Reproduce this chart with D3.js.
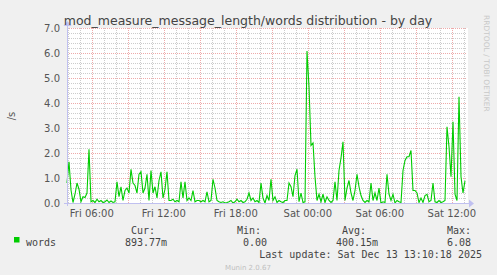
<!DOCTYPE html>
<html>
<head>
<meta charset="utf-8">
<script src="https://cdn.jsdelivr.net/npm/d3@7"></script>
<style>
  body { margin: 0; background: #f0f0f0; }
  svg { display: block; }
  text { font-family: "DejaVu Sans", sans-serif; }
  .mono { font-family: "DejaVu Sans Mono", monospace; font-size: 10px; fill: #444; }
</style>
</head>
<body>
<script>
// data: one value every 10 minutes, starting Fri Dec 12 2025 03:56
const words = [
  0.8, 1.65, 0.52, 0.02, 0.35, 0.8, 0.55, 0.05, 0.25, 0.22,
  0.4, 2.15, 0.05, 0.1, 0.02, 0.15, 0.05, 0.1, 0.02, 0.05,
  0.12, 0.02, 0.08, 0.02, 0.05, 0.85, 0.25, 0.65, 0.1, 0.5,
  0.6, 0.4, 1.35, 0.8, 0.7, 0.4, 1.15, 1.25, 0.4, 0.6,
  1.15, 0.1, 1.3, 0.4, 0.65, 0.2, 0.9, 1.25, 0.2, 0.55,
  1.25, 0.1, 0.1, 0.15, 0.05, 0.1, 0.05, 0.85, 0.2, 0.85,
  0.1, 0.2, 0.1, 0.5, 0.05, 0.1, 0.1, 0.05, 0.1, 0.05,
  0.45, 0.05, 0.1, 0.95, 0.6, 0.1, 0.05, 0.02, 0.05, 0.0,
  0.02, 0.05, 0.1, 0.0, 0.05, 0.15, 0.05, 0.1, 0.02, 0.05,
  0.15, 0.4, 0.1, 0.2, 0.05, 0.1, 0.02, 0.8, 0.2, 0.0,
  0.3, 0.1, 0.95, 0.1, 0.25, 0.02, 0.1, 0.05, 0.02, 0.1,
  0.1, 0.8, 0.65, 0.25, 1.1, 1.35, 0.05, 0.4, 0.02, 0.05,
  6.08, 4.65, 2.3, 2.4, 1.05, 0.1, 0.35, 0.05, 0.35, 0.02,
  0.25, 0.1, 0.02, 0.1, 0.85, 0.1, 1.3, 1.8, 2.45, 0.1,
  0.6, 0.9, 0.4, 0.1, 0.5, 1.15, 0.65, 0.3, 0.1, 0.02,
  0.1, 0.05, 0.8, 0.1, 0.4, 0.1, 0.6, 0.0, 0.05, 0.02,
  1.15, 0.35, 0.1, 0.35, 0.0, 0.1, 0.05, 0.02, 1.3, 1.7,
  1.85, 1.85, 2.1, 0.5, 0.5, 0.4, 0.02, 0.2, 0.02, 0.3,
  0.35, 0.05, 0.1, 0.8, 0.05, 0.02, 0.1, 0.02, 0.05, 0.1,
  3.05, 2.25, 1.05, 3.25, 0.35, 0.1, 4.25, 1.05, 0.4, 0.89
]
const yTicks = [0, 1, 2, 3, 4, 5, 6, 7]
const legendHeads = ['Cur:', 'Min:', 'Avg:', 'Max:']
const legendValues = ['893.77m', '0.00', '400.15m', '6.08']
const title = 'mod_measure_message_length/words distribution - by day'
const lastUpdate = 'Last update: Sat Dec 13 13:10:18 2025'

const start = new Date(2025, 11, 12, 3, 56)
const end = new Date(2025, 11, 13, 13, 16)
const step = 10 * 60 * 1000

const width = 497
const height = 275
const margin = {top: 28, left: 67, right: 30, bottom: 72}
const plotW = width - margin.left - margin.right
const plotH = height - margin.top - margin.bottom

const svg = d3.select('body').append('svg')
  .attr('width', width)
  .attr('height', height)

svg.append('rect')
  .attr('x', margin.left).attr('y', margin.top)
  .attr('width', plotW + 1).attr('height', plotH)
  .attr('fill', '#ffffff')

const x = d3.scaleTime().domain([start, end]).range([margin.left, margin.left + plotW])
const y = d3.scaleLinear().domain([0, 7]).range([margin.top + plotH, margin.top])

// grid
const minorColor = '#cccccc'
const majorColor = '#eeaaaa'
const grid = svg.append('g')
grid.selectAll('.hminor')
  .data(d3.range(0, 7.01, 0.2).filter(v => Math.abs(v - Math.round(v)) > 0.01))
  .enter().append('line')
  .attr('x1', margin.left).attr('x2', margin.left + plotW)
  .attr('y1', d => Math.round(y(d)) + 0.5).attr('y2', d => Math.round(y(d)) + 0.5)
  .attr('stroke', minorColor).attr('stroke-dasharray', '1,1')
grid.selectAll('.vminor')
  .data(d3.timeHour.range(start, end).filter(d => d.getHours() % 3 != 0))
  .enter().append('line')
  .attr('x1', d => Math.round(x(d)) + 0.5).attr('x2', d => Math.round(x(d)) + 0.5)
  .attr('y1', margin.top).attr('y2', margin.top + plotH)
  .attr('stroke', minorColor).attr('stroke-dasharray', '1,1')
grid.selectAll('.hmajor')
  .data(yTicks.slice(1))
  .enter().append('line')
  .attr('x1', margin.left).attr('x2', margin.left + plotW)
  .attr('y1', d => Math.round(y(d)) + 0.5).attr('y2', d => Math.round(y(d)) + 0.5)
  .attr('stroke', majorColor).attr('stroke-dasharray', '1,1')
grid.selectAll('.vmajor')
  .data(d3.timeHour.every(3).range(start, end))
  .enter().append('line')
  .attr('x1', d => Math.round(x(d)) + 0.5).attr('x2', d => Math.round(x(d)) + 0.5)
  .attr('y1', margin.top).attr('y2', margin.top + plotH)
  .attr('stroke', majorColor).attr('stroke-dasharray', '1,1')

// y labels
svg.append('g').selectAll('text')
  .data(yTicks)
  .enter().append('text')
  .attr('x', 60).attr('y', d => y(d) + 3.5)
  .attr('text-anchor', 'end')
  .attr('font-size', 10).attr('fill', '#555')
  .text(d => d.toFixed(1))

// x labels
svg.append('g').selectAll('text')
  .data(d3.timeHour.every(6).range(start, end))
  .enter().append('text')
  .attr('x', d => x(d)).attr('y', 217)
  .attr('text-anchor', 'middle')
  .attr('font-size', 10).attr('fill', '#555')
  .text(d => d3.timeFormat('%a %H:%M')(d))

// series
const line = d3.line()
  .x((d, i) => x(new Date(start.getTime() + i * step)))
  .y(d => y(d))
svg.append('path')
  .datum(words)
  .attr('d', line)
  .attr('fill', 'none')
  .attr('stroke', '#00cc00')
  .attr('stroke-width', 1.1)

// axes
const axisColor = '#c0c0f0'
svg.append('line')
  .attr('x1', margin.left - 3).attr('x2', margin.left + plotW + 2)
  .attr('y1', y(0) + 0.5).attr('y2', y(0) + 0.5)
  .attr('stroke', axisColor)
svg.append('line')
  .attr('x1', margin.left + 0.5).attr('x2', margin.left + 0.5)
  .attr('y1', y(0) + 3).attr('y2', margin.top - 3)
  .attr('stroke', axisColor)
svg.append('path')
  .attr('d', `M${margin.left + plotW + 2},${y(0) - 3.5} L${margin.left + plotW + 7},${y(0) + 0.5} L${margin.left + plotW + 2},${y(0) + 4.5} Z`)
  .attr('fill', axisColor)
svg.append('path')
  .attr('d', `M${margin.left - 3.5},${margin.top - 2} L${margin.left + 0.5},${margin.top - 7} L${margin.left + 4.5},${margin.top - 2} Z`)
  .attr('fill', axisColor)

// title, unit, watermark
svg.append('text')
  .attr('x', 248).attr('y', 25)
  .attr('text-anchor', 'middle')
  .attr('font-size', 12.5).attr('fill', '#444')
  .text(title)
svg.append('text')
  .attr('transform', 'translate(15,116) rotate(-90)')
  .attr('text-anchor', 'middle')
  .attr('font-size', 10).attr('fill', '#555')
  .text('/s')
svg.append('text')
  .attr('transform', 'translate(484,15) rotate(90)')
  .attr('font-size', 7.5).attr('fill', '#c8c8c8')
  .text('RRDTOOL / TOBI OETIKER')

// legend
svg.append('rect')
  .attr('x', 14).attr('y', 237).attr('width', 5.5).attr('height', 5.5)
  .attr('fill', '#00cc00')
svg.append('text').attr('class', 'mono')
  .attr('x', 26).attr('y', 246).text('words')
const headX = [131, 237, 342, 447]
const valX = [125, 243, 336, 447]
svg.append('g').selectAll('text')
  .data(legendHeads)
  .enter().append('text').attr('class', 'mono')
  .attr('x', (d, i) => headX[i]).attr('y', 234)
  .text(d => d)
svg.append('g').selectAll('text')
  .data(legendValues)
  .enter().append('text').attr('class', 'mono')
  .attr('x', (d, i) => valX[i]).attr('y', 246)
  .text(d => d)
svg.append('text').attr('class', 'mono')
  .attr('x', 482).attr('y', 258)
  .attr('text-anchor', 'end')
  .text(lastUpdate)
svg.append('text')
  .attr('x', 248).attr('y', 270)
  .attr('text-anchor', 'middle')
  .attr('font-size', 7).attr('fill', '#c0c0c0')
  .text('Munin 2.0.67')
</script>
</body>
</html>
